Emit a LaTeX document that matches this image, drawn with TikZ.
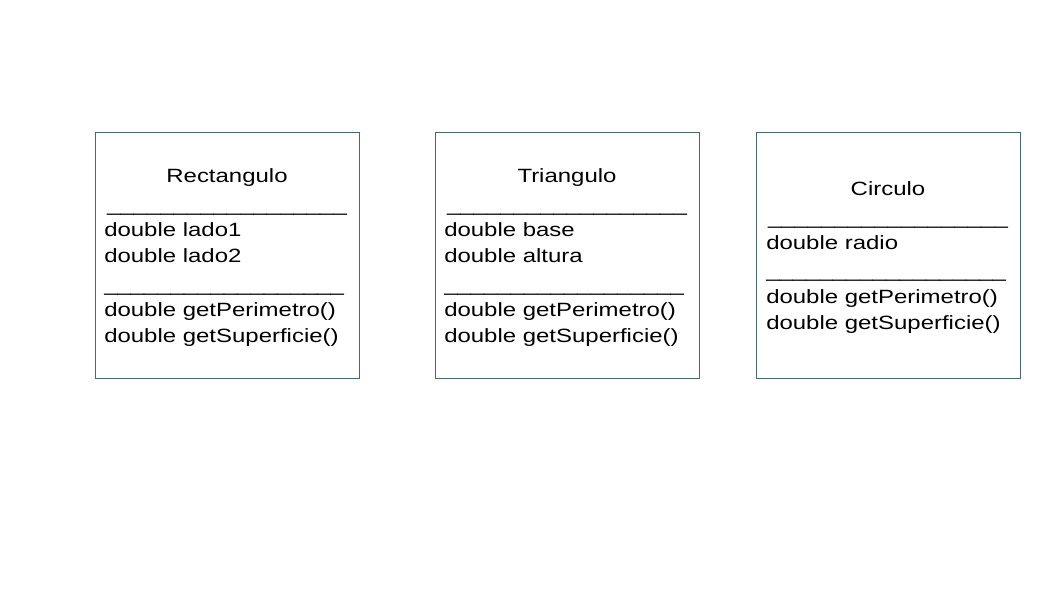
\documentclass[tikz,border=0pt]{standalone}
\usepackage{fontspec}
\setmainfont{Liberation Sans}
\definecolor{boxblue}{HTML}{46668F}
\newcommand{\sepline}{\_\_\_\_\_\_\_\_\_\_\_\_\_\_\_\_\_\_}
\tikzset{
  classbox/.style={draw=boxblue, line width=0.9pt},
  classtitle/.style={anchor=base, inner sep=0pt, xscale=1.248, font=\fontsize{19.2}{26}\selectfont},
  member/.style={anchor=base west, inner sep=0pt, xscale=1.248, font=\fontsize{19.2}{26}\selectfont}
}
\begin{document}
\begin{tikzpicture}[x=1pt,y=-1pt]
    \useasboundingbox (0,0) rectangle (1058,595);

    % Rectangulo
    \draw[classbox] (95,132) rectangle (359,378);
    \node[classtitle] (rectTitle) at (227,182) {Rectangulo};
    \node[classtitle] (rectSepA) at (227,211) {\sepline};
    \node[member] (rectLado1) at (104,236) {double lado1};
    \node[member] (rectLado2) at (104,262) {double lado2};
    \node[member] (rectSepB) at (104,291) {\sepline};
    \node[member] (rectPerim) at (104,316) {double getPerimetro()};
    \node[member] (rectSuper) at (104,342) {double getSuperficie()};

    % Triangulo
    \draw[classbox] (435,132) rectangle (699,378);
    \node[classtitle] (triTitle) at (567,182) {Triangulo};
    \node[classtitle] (triSepA) at (567,211) {\sepline};
    \node[member] (triBase) at (444,236) {double base};
    \node[member] (triAltura) at (444,262) {double altura};
    \node[member] (triSepB) at (444,291) {\sepline};
    \node[member] (triPerim) at (444,316) {double getPerimetro()};
    \node[member] (triSuper) at (444,342) {double getSuperficie()};

    % Circulo
    \draw[classbox] (756,132) rectangle (1020,378);
    \node[classtitle] (circTitle) at (888,195.5) {Circulo};
    \node[classtitle] (circSepA) at (888,224) {\sepline};
    \node[member] (circRadio) at (766,249.5) {double radio};
    \node[member] (circSepB) at (766,277.5) {\sepline};
    \node[member] (circPerim) at (766,303) {double getPerimetro()};
    \node[member] (circSuper) at (766,329) {double getSuperficie()};

\end{tikzpicture}
\end{document}
